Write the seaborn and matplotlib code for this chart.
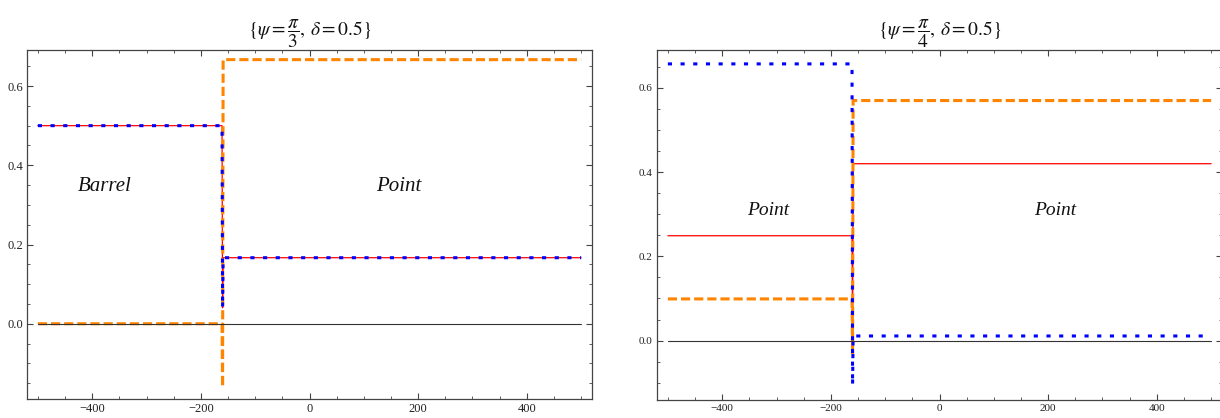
import matplotlib
matplotlib.use("Agg")
import matplotlib.pyplot as plt
from matplotlib.ticker import MultipleLocator
import numpy as np
import pandas as pd
import seaborn as sns

# Sample positions: flat plateau, the switching point at x = -160, flat plateau
x_pts = [-500, -161, -160, -159, 500]

# psi = pi/3, delta = 0.5
red_pi3 = [0.5, 0.5, 0.04, 1 / 6, 1 / 6]
blue_pi3 = [0.5, 0.5, 0.04, 1 / 6, 1 / 6]
orange_pi3 = [0.0, 0.0, -0.16, 2 / 3, 2 / 3]
zero_pi3 = [0.0, 0.0, 0.0, 0.0, 0.0]

# psi = pi/4, delta = 0.5
red_pi4 = [0.249, 0.249, 0.0, 0.42, 0.42]
blue_pi4 = [0.657, 0.657, -0.106, 0.011, 0.011]
orange_pi4 = [0.099, 0.099, -0.03, 0.57, 0.57]
zero_pi4 = [0.0, 0.0, 0.0, 0.0, 0.0]

titles = [r"$\{\psi = \dfrac{\pi}{3},\, \delta = 0.5\}$",
          r"$\{\psi = \dfrac{\pi}{4},\, \delta = 0.5\}$"]
region_labels = [[("Barrel", -377, 0.346), ("Point", 165, 0.346)],
                 [("Point", -316, 0.31), ("Point", 213, 0.31)]]
ylims = [(-0.19, 0.691), (-0.141, 0.690)]
xticks = [-400, -200, 0, 200, 400]
yticks = [0.0, 0.2, 0.4, 0.6]

sns.set_theme(style="ticks")
plt.rcParams["font.family"] = ["Liberation Serif", "DejaVu Serif"]
plt.rcParams["mathtext.fontset"] = "stix"
plt.rcParams["axes.unicode_minus"] = True

fig = plt.figure(figsize=(12.2, 4.18), dpi=100)
axes = [fig.add_axes([27 / 1220, 19 / 418, 565 / 1220, 349 / 418]),
        fig.add_axes([657 / 1220, 18 / 418, 565 / 1220, 350 / 418])]

panels = [(red_pi3, orange_pi3, blue_pi3, zero_pi3),
          (red_pi4, orange_pi4, blue_pi4, zero_pi4)]

frame = "#444444"
for i, (ax, (red, orange, blue, zero)) in enumerate(zip(axes, panels)):
    df = pd.DataFrame({"x": x_pts, "red": red, "orange": orange,
                       "blue": blue, "zero": zero})
    sns.lineplot(data=df, x="x", y="red", ax=ax, color="#ff0000",
                 linewidth=0.9, sort=False, estimator=None, zorder=2)
    sns.lineplot(data=df, x="x", y="orange", ax=ax, color="#ff8400",
                 linewidth=2.2, linestyle=(0, (3.0, 1.3)),
                 sort=False, estimator=None, zorder=3)
    sns.lineplot(data=df, x="x", y="blue", ax=ax, color="#0000ff",
                 linewidth=2.2, linestyle=(0, (1.35, 2.8)),
                 sort=False, estimator=None, zorder=4)
    sns.lineplot(data=df, x="x", y="zero", ax=ax, color="#333333",
                 linewidth=0.8, sort=False, estimator=None, zorder=5)

    ax.set_xlim(-520, 520)
    ax.set_ylim(*ylims[i])
    ax.set_xlabel("")
    ax.set_ylabel("")
    ax.set_xticks(xticks)
    ax.set_yticks(yticks)
    ax.set_yticklabels([f"{v:.1f}" for v in yticks])
    ax.xaxis.set_minor_locator(MultipleLocator(50))
    ax.yaxis.set_minor_locator(MultipleLocator(0.05))
    fs = 9 if i == 0 else 8
    ax.tick_params(which="both", direction="in", top=True, right=True,
                   colors=frame, labelcolor="#222222", labelsize=fs, pad=3)
    ax.tick_params(which="major", length=4, width=0.8)
    ax.tick_params(which="minor", length=2, width=0.6)
    for s in ax.spines.values():
        s.set_visible(True)
        s.set_color(frame)
        s.set_linewidth(0.9)

    lfs = 15 if i == 0 else 14
    for label, lx, ly in region_labels[i]:
        ax.text(lx, ly, label, fontsize=lfs, fontstyle="italic",
                ha="center", va="center", color="#111111")

    ax.set_title(titles[i], fontsize=14, pad=1 if i == 0 else -5,
                 color="#111111")

fig.savefig("out.png", dpi=100)
